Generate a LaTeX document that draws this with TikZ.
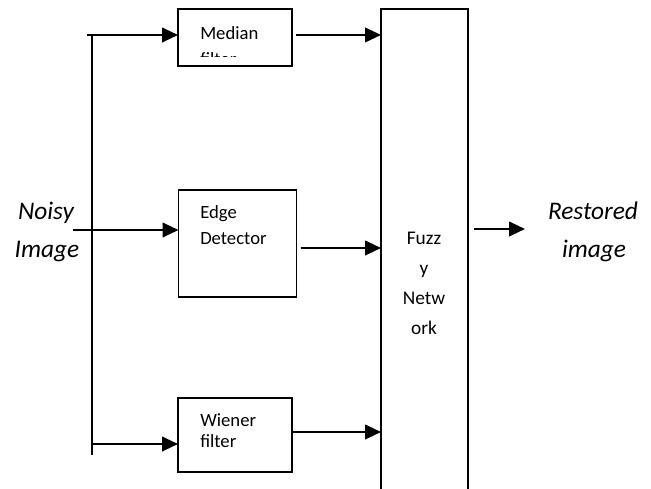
\documentclass[tikz,border=0pt]{standalone}
\usepackage{fontspec}
\setmainfont{Carlito}
\usetikzlibrary{arrows.meta}
\tikzset{
	box/.style={draw, line width=1.1pt, inner sep=0pt, outer sep=0pt},
	flow/.style={line width=1.5pt, -{Triangle[length=12pt,width=11pt]}},
	lbl/.style={font=\fontsize{14pt}{16pt}\selectfont, inner sep=0pt, anchor=base west},
	io/.style={font=\fontsize{19pt}{22pt}\itshape, inner sep=0pt, anchor=base}
}

\begin{document}
\begin{tikzpicture}[x=0.75pt,y=-0.75pt]
		%%%%% START %%%%%
		\clip (0,0) rectangle (651,489);
		
		% filter blocks
		\node[box, minimum width=85.5pt, minimum height=42.75pt] (median) at (235,37.5) {};
		\node[box, minimum width=88.5pt, minimum height=80.25pt] (edge) at (237.5,243.5) {};
		\node[box, minimum width=85.5pt, minimum height=55.5pt] (wiener) at (235,435) {};
		
		% fuzzy block, runs off the bottom
		\node[box, minimum width=65.25pt, minimum height=383.25pt] (fuzzy) at (424.5,264.5) {};
		
		% texts
		\begin{scope}
			\clip (178,9) rectangle (292,56);
			\node[lbl] (tmedian) at (200,39) {Median};
			\node[lbl] (tmedianb) at (200,65) {filter};
		\end{scope}
		\node[lbl] (tedge) at (200,218) {Edge};
		\node[lbl] (tedgeb) at (200,244) {Detector};
		\node[lbl] (twiener) at (200,426) {Wiener};
		\node[lbl] (twienerb) at (200,447) {filter};
		
		\node[font=\fontsize{14.5pt}{16pt}\selectfont, inner sep=0pt, anchor=base] (tfuzzy) at (424,244) {Fuzz};
		\node[font=\fontsize{14.5pt}{16pt}\selectfont, inner sep=0pt, anchor=base] (tfuzzyb) at (424,274) {y};
		\node[font=\fontsize{14.5pt}{16pt}\selectfont, inner sep=0pt, anchor=base] (tfuzzyc) at (424,304) {Netw};
		\node[font=\fontsize{14.5pt}{16pt}\selectfont, inner sep=0pt, anchor=base] (tfuzzyd) at (424,334) {ork};
		
		\node[io] (noisy) at (46,219) {Noisy};
		\node[io] (noisyb) at (47,257) {Image};
		\node[io] (restored) at (593,219) {Restored};
		\node[io] (restoredb) at (594,257) {image};
		
		% input bus
		\coordinate (bustop) at (92,35);
		\coordinate (busbot) at (92,455);
		\coordinate (topin) at (87,35);
		\coordinate (midin) at (73,230);
		\coordinate (botin) at (92,444);
		\coordinate (outend) at (525,229);
		\draw[line width=1.5pt] (bustop) -- (busbot);
		
		\draw[flow] (topin) -- (topin -| median.west);
		\draw[flow] (midin) -- (midin -| edge.west);
		\draw[flow] (botin) -- (botin -| wiener.west);
		
		% into the fuzzy block
		\draw[flow] ([xshift=3pt,yshift=1.9pt]median.east) -- ([yshift=1.9pt]median.east -| fuzzy.west);
		\draw[flow] ([xshift=3pt]edge.east |- 0,248) -- (fuzzy.west |- 0,248);
		\draw[flow] (wiener.east |- 0,432) -- (fuzzy.west |- 0,432);
		
		% output
		\draw[flow] (fuzzy.east |- outend) ++(4.5pt,0) -- (outend);
		%%%%% END %%%%%
\end{tikzpicture}
\end{document}
